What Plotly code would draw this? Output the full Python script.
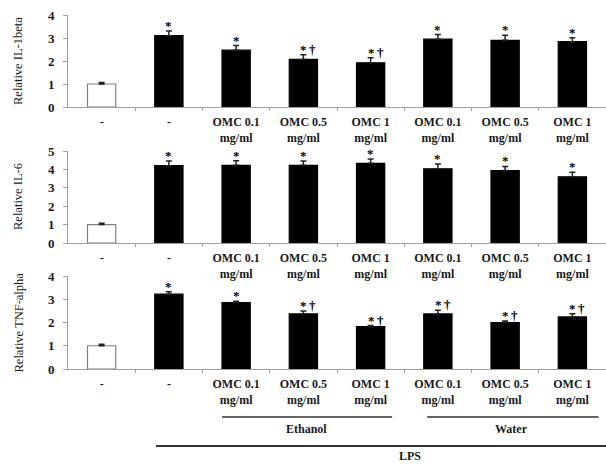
import plotly.graph_objects as go
from plotly.subplots import make_subplots

# ---- data ----
tick_labels = ["-", "-", "OMC 0.1<br>mg/ml", "OMC 0.5<br>mg/ml", "OMC 1<br>mg/ml",
               "OMC 0.1<br>mg/ml", "OMC 0.5<br>mg/ml", "OMC 1<br>mg/ml"]
positions = [0, 1, 2, 3, 4, 5, 6, 7]

il1b = [1.0, 3.1, 2.47, 2.07, 1.92, 2.95, 2.9, 2.84]
il1b_err = [0.07, 0.2, 0.2, 0.2, 0.22, 0.2, 0.22, 0.17]
il1b_sig = ["", "*", "*", "*\u2009†", "*\u2009†", "*", "*", "*"]

il6 = [1.0, 4.2, 4.22, 4.22, 4.33, 4.03, 3.94, 3.6]
il6_err = [0.07, 0.25, 0.25, 0.24, 0.23, 0.27, 0.22, 0.25]
il6_sig = ["", "*", "*", "*", "*", "*", "*", "*"]

tnf = [1.0, 3.22, 2.86, 2.37, 1.82, 2.37, 2.0, 2.24]
tnf_err = [0.06, 0.1, 0.05, 0.12, 0.05, 0.16, 0.06, 0.14]
tnf_sig = ["", "*", "*", "*\u2009†", "*\u2009†", "*\u2009†", "*\u2009†", "*\u2009†"]

y_titles = ["Relative IL-1beta", "Relative IL-6", "Relative TNF-alpha"]
y_max = [4, 5, 4]

panels = [(il1b, il1b_err, il1b_sig), (il6, il6_err, il6_sig), (tnf, tnf_err, tnf_sig)]

# ---- layout geometry (pixels in a 606x464 canvas) ----
W, H = 606, 464
ML = 68
panel_px = [(15, 107), (151, 243), (276, 369)]  # (top, zero) pixel rows

fig = make_subplots(rows=3, cols=1)

serif = "Liberation Serif"
ink = "#1a1a1a"

for i, (vals, errs, sigs) in enumerate(panels):
    r = i + 1
    xr = "x" if r == 1 else f"x{r}"
    yr = "y" if r == 1 else f"y{r}"
    colors = ["white"] + ["black"] * (len(vals) - 1)
    lcolors = ["#808080"] + ["black"] * (len(vals) - 1)
    fig.add_trace(go.Bar(
        x=positions, y=vals,
        marker=dict(color=colors, line=dict(color=lcolors, width=1.2)),
        error_y=dict(type="data", array=errs, arrayminus=[0] * len(errs), symmetric=False,
                     color="#222", thickness=1.5, width=3),
        width=0.42, showlegend=False, hoverinfo="skip"),
        row=r, col=1)
    for x, v, e, s in zip(positions, vals, errs, sigs):
        if s:
            fig.add_annotation(x=x, y=v + e, xref=xr, yref=yr,
                               text=f"<b>{s}</b>", showarrow=False,
                               xanchor="center", yanchor="bottom", yshift=-4,
                               xshift=5 if len(s) > 1 else 0,
                               font=dict(family=serif, size=13, color="black"))
    top, zero = panel_px[i]
    dom = [1 - zero / H, 1 - top / H]
    fig.update_yaxes(row=r, col=1, domain=dom, range=[0, y_max[i]], dtick=1,
                     showgrid=False, zeroline=False, showline=True, linecolor="#a0a0a0",
                     linewidth=1, ticks="outside", ticklen=4, tickcolor="#a0a0a0",
                     tickfont=dict(family=serif, size=13, color=ink, weight="bold"),
                     ticklabelstandoff=6, automargin=False)
    fig.update_xaxes(row=r, col=1, range=[-0.5, 7.5], showgrid=False, zeroline=False,
                     showline=True, linecolor="#a0a0a0", linewidth=1,
                     tickmode="array", tickvals=positions, ticktext=tick_labels, ticks="",
                     tickfont=dict(family=serif, size=12, color=ink, weight="bold"),
                     ticklabelstandoff=4, automargin=False,
                     minor=dict(tickvals=[p + 0.5 for p in positions[:-1]], ticks="outside",
                                ticklen=3, tickcolor="#a0a0a0"))
    fig.add_annotation(xref="paper", yref="paper", x=(18 - ML) / (W - ML),
                       y=1 - (top + zero) / 2 / H, text=y_titles[i], textangle=-90,
                       xanchor="center", yanchor="middle",
                       showarrow=False, font=dict(family=serif, size=12.5, color=ink))

# group brackets
def ypx(p):
    return 1 - p / H

groups = [("Ethanol", 1.79, 4.32, 3.05), ("Water", 4.84, 7.39, 6.1)]
for name, x0, x1, xc in groups:
    fig.add_shape(type="line", xref="x3", yref="paper", x0=x0, x1=x1, y0=ypx(417), y1=ypx(417),
                  line=dict(color="#333", width=1.5))
    fig.add_annotation(xref="x3", yref="paper", x=xc, y=ypx(429), text=f"<b>{name}</b>",
                       xanchor="center", yanchor="middle",
                       showarrow=False, font=dict(family=serif, size=12, color=ink))
fig.add_shape(type="line", xref="x3", yref="paper", x0=0.81, x1=7.6, y0=ypx(446), y1=ypx(446),
              line=dict(color="#333", width=2))
fig.add_annotation(xref="x3", yref="paper", x=4.59, y=ypx(456), text="<b>LPS</b>",
                   xanchor="center", yanchor="middle", showarrow=False,
                   font=dict(family=serif, size=12, color=ink))

fig.update_layout(width=W, height=H, margin=dict(l=ML, r=0, t=0, b=0, autoexpand=False),
                  plot_bgcolor="white", paper_bgcolor="white", bargap=0.58)

fig.write_html("out.html", config={"displayModeBar": False},
               post_script="document.body.style.margin='0';")
